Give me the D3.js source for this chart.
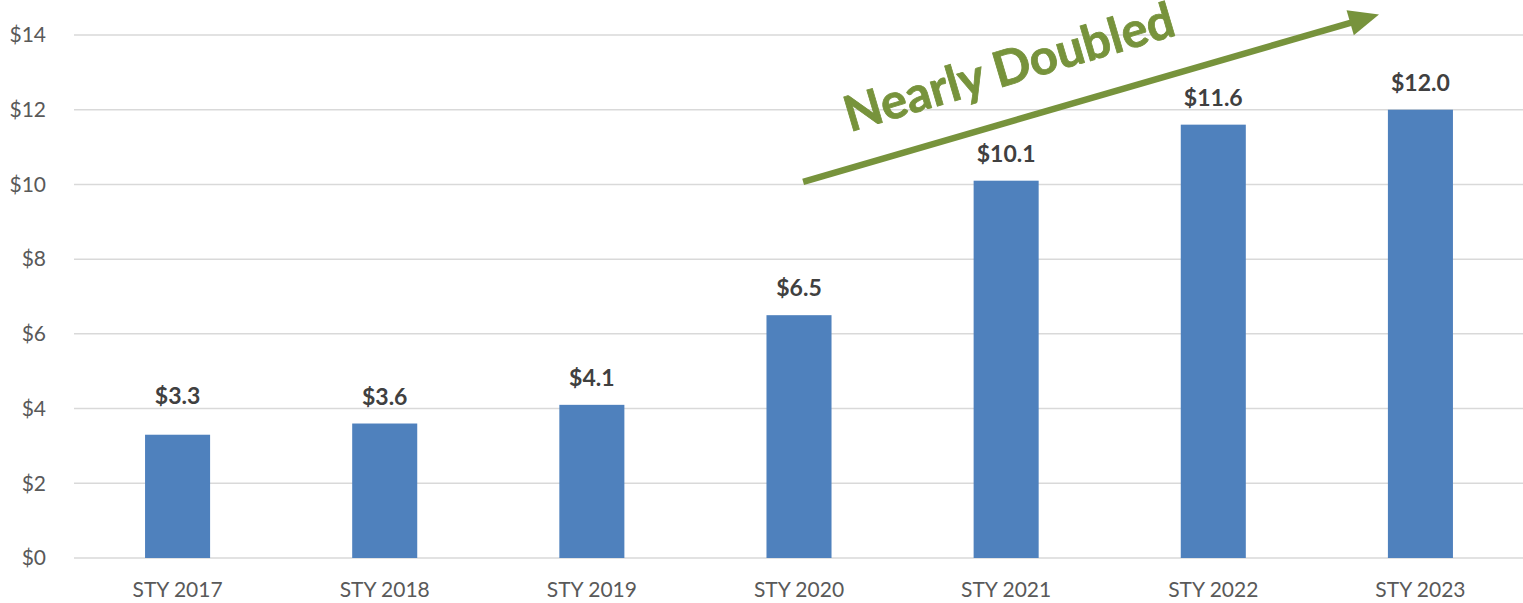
<!DOCTYPE html>
<html>
<head>
<meta charset="utf-8">
<script src="https://cdn.jsdelivr.net/npm/d3@7"></script>
<style>
  html, body { margin: 0; padding: 0; background: #fff; }
  svg { display: block; font-family: Lato, "Open Sans", sans-serif; }
</style>
</head>
<body>
<svg id="chart" width="1523" height="603"></svg>
<script>
// values (billions of dollars)
var categories = ["STY 2017", "STY 2018", "STY 2019", "STY 2020", "STY 2021", "STY 2022", "STY 2023"];
var values = [3.3, 3.6, 4.1, 6.5, 10.1, 11.6, 12.0];
var yTicks = [0, 2, 4, 6, 8, 10, 12, 14];
var annotationText = "Nearly Doubled";

var svg = d3.select("#chart"),
    width = +svg.attr("width"),
    height = +svg.attr("height");

var x = d3.scaleBand()
    .domain(categories)
    .range([74, 1524])
    .paddingInner(0.686)
    .paddingOuter(0.343);

var y = d3.scaleLinear()
    .domain([0, 14])
    .range([558, 35]);

// gridlines
svg.append("g")
    .attr("class", "grid")
    .selectAll("line")
    .data(yTicks)
    .enter().append("line")
        .attr("x1", 74)
        .attr("x2", width)
        .attr("y1", function(d) { return y(d); })
        .attr("y2", function(d) { return y(d); })
        .attr("stroke", "#d9d9d9")
        .attr("stroke-width", 1.5);

// y axis labels
var yAxis = d3.axisLeft(y)
    .tickValues(yTicks)
    .tickSize(0)
    .tickPadding(0)
    .tickFormat(function(d) { return "$" + d; });
var gy = svg.append("g")
    .attr("transform", "translate(46,0)")
    .call(yAxis);
gy.select(".domain").remove();
gy.selectAll("text")
    .attr("fill", "#595959")
    .style("font-family", "Lato, 'Open Sans', sans-serif")
    .style("font-size", "21px");

// x axis labels
var xAxis = d3.axisBottom(x).tickSize(0).tickPadding(0);
var gx = svg.append("g")
    .attr("transform", "translate(0,582)")
    .call(xAxis);
gx.select(".domain").remove();
gx.selectAll("text")
    .attr("fill", "#595959")
    .style("font-family", "Lato, 'Open Sans', sans-serif")
    .style("font-size", "21px");

// bars
svg.append("g")
    .attr("class", "bars")
    .selectAll("rect")
    .data(values)
    .enter().append("rect")
        .attr("x", function(d, i) { return x(categories[i]); })
        .attr("width", x.bandwidth())
        .attr("y", function(d) { return y(d); })
        .attr("height", function(d) { return y(0) - y(d); })
        .attr("fill", "#4f81bd");

// data labels (first one sits a bit higher in the original)
var labelNudge = { "STY 2017": -12 };
svg.append("g")
    .attr("class", "labels")
    .selectAll("text")
    .data(values)
    .enter().append("text")
        .attr("x", function(d, i) { return x(categories[i]) + x.bandwidth() / 2; })
        .attr("y", function(d, i) { return y(d) - 19 + (labelNudge[categories[i]] || 0); })
        .attr("text-anchor", "middle")
        .attr("fill", "#404040")
        .style("font-weight", "bold")
        .style("font-size", "23px")
        .text(function(d) { return "$" + d.toFixed(1); });

// "Nearly Doubled" arrow, positioned in category-index / value space
var step = x.step();
function xAt(idx) { return x(categories[0]) + x.bandwidth() / 2 + idx * step; }
var from = [xAt(3.02), y(10.07)],
    to = [xAt(5.8), y(14.55)];
var ang = Math.atan2(to[1] - from[1], to[0] - from[0]),
    headLen = 30, headHalf = 13;
var base = [to[0] - headLen * Math.cos(ang), to[1] - headLen * Math.sin(ang)];
var green = "#77933c";

svg.append("line")
    .attr("x1", from[0]).attr("y1", from[1])
    .attr("x2", base[0] + 2 * Math.cos(ang)).attr("y2", base[1] + 2 * Math.sin(ang))
    .attr("stroke", green)
    .attr("stroke-width", 6.5);

svg.append("path")
    .attr("d", "M" + to[0] + "," + to[1] +
        "L" + (base[0] + headHalf * Math.sin(ang)) + "," + (base[1] - headHalf * Math.cos(ang)) +
        "L" + (base[0] - headHalf * Math.sin(ang)) + "," + (base[1] + headHalf * Math.cos(ang)) + "Z")
    .attr("fill", green);

svg.append("text")
    .attr("transform", "translate(850,132) rotate(" + (-16.5) + ")")
    .attr("fill", green)
    .attr("stroke", green)
    .attr("stroke-width", 0.8)
    .style("font-weight", "bold")
    .style("font-size", "49px")
    .text(annotationText);
</script>
</body>
</html>
